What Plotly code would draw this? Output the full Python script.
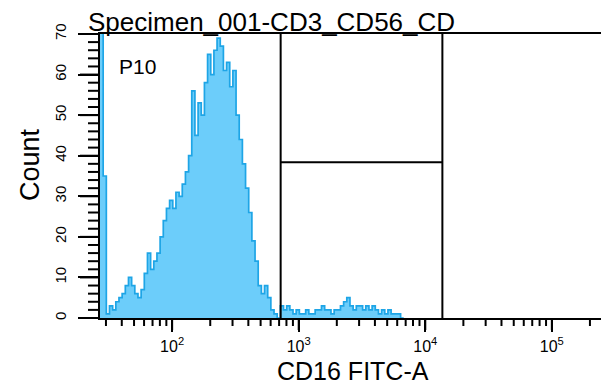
import numpy as np
import plotly.graph_objects as go

# ---- data ----
title_text = "Specimen_001-CD3_CD56_CD"
x_title = "CD16 FITC-A"
y_title = "Count"
gate_name = "P10"

# histogram bins on a log10 scale (left edge of first bin and bin width, in decades)
bin_start_log = 1.43
bin_width_log = 0.025
counts = [72, 35, 1, 3, 2, 4, 5, 6, 8, 10,
          8, 6, 5, 7, 11, 16, 12, 14, 16, 20,
          24, 27, 29, 27, 31, 30, 33, 36, 40, 56,
          45, 53, 50, 58, 65, 60, 66, 69, 67, 61,
          63, 57, 61, 50, 44, 38, 32, 26, 19, 14,
          8, 6, 8, 5, 2, 1, 0, 3, 2, 3,
          2, 1, 2, 1, 1, 2, 1, 1, 2, 2,
          3, 2, 2, 1, 2, 2, 3, 4, 5, 3,
          2, 3, 3, 2, 3, 2, 3, 2, 1, 2,
          1, 2, 1, 1, 1, 0]

gate_x = [720, 13650]        # vertical gate boundaries
gate_y = 38.4                # height of the horizontal gate bar

x_range_log = [1.43, 5.42]
y_range = [0, 70]
x_major = [100, 1000, 10000, 100000]
x_major_text = ["10<sup>2</sup>", "10<sup>3</sup>", "10<sup>4</sup>", "10<sup>5</sup>"]
x_minor = [m * 10 ** d for d in range(1, 6) for m in range(2, 10)]
y_major = [0, 10, 20, 30, 40, 50, 60, 70]
y_minor = [v for v in range(0, 71, 2) if v % 10 != 0]

# ---- geometry (pixels) ----
W, H = 601, 376                     # page body has an 8px margin
left_px = 92                        # left edge of the plot area inside the figure
M = dict(l=0, r=4, t=26, b=66)
paper_w = W - M["l"] - M["r"]
plot_h = H - M["t"] - M["b"]
x_major_len, x_minor_len = 12, 8
y_major_len, y_minor_len = 20, 12


def px(p):
    """figure pixel -> paper fraction"""
    return (p - M["l"]) / paper_w


# ---- figure ----
n = len(counts)
edges = 10 ** (bin_start_log + bin_width_log * np.arange(n + 1))
xs = list(edges)
ys = list(counts) + [counts[-1]]

fill_col = "rgb(108,205,250)"
line_col = "rgb(30,165,230)"

fig = go.Figure()
fig.add_trace(go.Scatter(
    x=xs, y=ys, mode="lines", line=dict(shape="hv", color=line_col, width=1.7),
    fill="tozeroy", fillcolor=fill_col, hoverinfo="skip", showlegend=False))

# y-axis tick marks, drawn in a margin strip that shares the count axis
tx, ty = [], []
for vals, ln in ((y_major, y_major_len), (y_minor, y_minor_len)):
    for v in vals:
        tx += [-ln, 0, None]
        ty += [v, v, None]
fig.add_trace(go.Scatter(x=tx, y=ty, xaxis="x2", yaxis="y", mode="lines",
                         line=dict(color="black", width=2), hoverinfo="skip",
                         showlegend=False))

# gate lines
for gx in gate_x:
    fig.add_shape(type="line", xref="x", yref="paper", x0=gx, x1=gx, y0=0, y1=1,
                  line=dict(color="black", width=2))
fig.add_shape(type="line", xref="x", yref="y", x0=gate_x[0], x1=gate_x[1],
              y0=gate_y, y1=gate_y, line=dict(color="black", width=2))

# x-axis tick marks
tick_line = dict(color="black", width=2)
for v in x_major:
    fig.add_shape(type="line", xref="x", yref="paper", x0=v, x1=v,
                  y0=0, y1=-x_major_len / plot_h, line=tick_line)
for v in x_minor:
    if 10 ** x_range_log[0] <= v <= 10 ** x_range_log[1]:
        fig.add_shape(type="line", xref="x", yref="paper", x0=v, x1=v,
                      y0=0, y1=-x_minor_len / plot_h, line=tick_line)

font_fam = "Liberation Sans, Arial, sans-serif"

fig.add_annotation(text=title_text, xref="paper", yref="paper", x=px(78), y=1.0,
                   xanchor="left", yanchor="bottom", showarrow=False,
                   font=dict(family=font_fam, size=26, color="black"), yshift=-5)
fig.add_annotation(text=gate_name, xref="paper", yref="paper", x=px(109), y=0.884,
                   xanchor="left", yanchor="middle", showarrow=False,
                   font=dict(family=font_fam, size=21, color="black"))
fig.add_annotation(text=x_title, xref="paper", yref="paper", x=px(344.5), y=0,
                   xanchor="center", yanchor="middle", showarrow=False, yshift=-53,
                   font=dict(family=font_fam, size=25, color="black"))
fig.add_annotation(text=y_title, xref="paper", yref="paper", x=px(22), y=0.539,
                   xanchor="center", yanchor="middle", showarrow=False, textangle=-90,
                   font=dict(family=font_fam, size=27, color="black"))

fig.update_layout(
    width=W, height=H,
    margin=dict(**M, autoexpand=False),
    paper_bgcolor="white", plot_bgcolor="rgba(0,0,0,0)",
    font=dict(family=font_fam, color="black"),
    xaxis=dict(type="log", range=x_range_log, domain=[px(left_px), 1],
               showgrid=False, zeroline=False, automargin=False,
               showline=True, mirror=True, linecolor="black", linewidth=2,
               ticks="outside", ticklen=x_major_len, tickwidth=2, tickcolor="black",
               tickmode="array", tickvals=x_major, ticktext=x_major_text,
               tickfont=dict(size=16), ticklabelstandoff=1),
    xaxis2=dict(range=[-left_px, 0], domain=[0, px(left_px)], anchor="y",
                visible=False, fixedrange=True),
    yaxis=dict(range=y_range, showgrid=False, zeroline=False, anchor="x",
               automargin=False,
               showline=True, mirror=True, linecolor="black", linewidth=2,
               ticks="outside", ticklen=y_major_len, tickwidth=2, tickcolor="black",
               tickmode="array", tickvals=y_major, tickangle=-90,
               ticklabelstandoff=6,
               tickfont=dict(size=15)),
)

fig.write_html("out.html")
